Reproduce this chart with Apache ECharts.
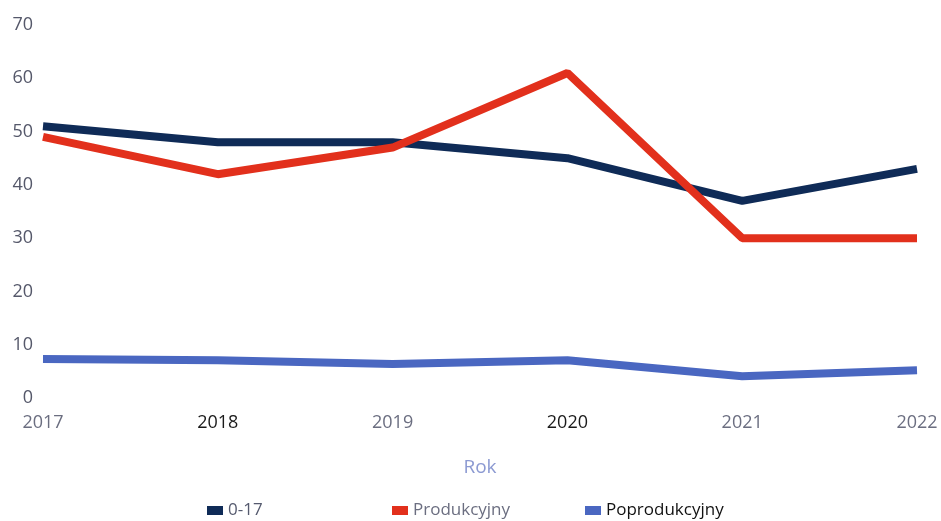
<!DOCTYPE html>
<html>
<head>
<meta charset="utf-8">
<script src="https://cdn.jsdelivr.net/npm/echarts@6/dist/echarts.min.js"></script>
<style>html,body{margin:0;padding:0;background:#fff}#c{width:941px;height:521px}</style>
</head>
<body>
<div id="c"></div>
<script>
const years = ['2017', '2018', '2019', '2020', '2021', '2022'];
const seriesNames = ['0-17', 'Produkcyjny', 'Poprodukcyjny'];
const vals017 = [51, 48, 48, 45, 37, 43];
const valsProd = [49, 42, 47, 61, 30, 30];
const valsPoprod = [7.3, 7.1, 6.4, 7.1, 4.1, 5.2];
const yTicks = [0, 10, 20, 30, 40, 50, 60, 70];

const colors = ['#0f2b57', '#e2301c', '#4a67c1'];
const darkYears = ['2018', '2020'];
const font = 'Open Sans, Noto Sans, sans-serif';

const chart = echarts.init(document.getElementById('c'));
const mkLegend = (name, left, textColor) => ({
  data: [name], left: left, top: 497, itemWidth: 16, itemHeight: 9,
  icon: 'rect', itemGap: 6, textStyle: { color: textColor, fontSize: 17, fontFamily: font }
});
chart.setOption({
  animation: false,
  color: colors,
  grid: { left: 43, right: 24, top: 25, bottom: 123 },
  legend: [
    mkLegend(seriesNames[0], 202, '#555a6e'),
    mkLegend(seriesNames[1], 387, '#6b6e80'),
    mkLegend(seriesNames[2], 580, '#111')
  ],
  xAxis: {
    type: 'category', data: years, boundaryGap: false,
    name: 'Rok', nameLocation: 'middle', nameGap: 60,
    nameTextStyle: { color: '#8c9ad2', fontSize: 19, fontFamily: font },
    axisLine: { show: false }, axisTick: { show: false },
    axisLabel: {
      fontSize: 18, fontFamily: font, margin: 16,
      color: function (v) { return darkYears.indexOf(v) >= 0 ? '#1a1a1a' : '#6b6e80'; }
    }
  },
  yAxis: {
    type: 'value', min: yTicks[0], max: yTicks[yTicks.length - 1], interval: 10,
    axisLine: { show: false }, axisTick: { show: false }, splitLine: { show: false },
    axisLabel: { fontSize: 18, fontFamily: font, color: '#55586a', margin: 10 }
  },
  series: [
    { name: seriesNames[0], type: 'line', data: vals017, showSymbol: false, lineStyle: { width: 8, cap: 'butt' } },
    { name: seriesNames[1], type: 'line', data: valsProd, showSymbol: false, lineStyle: { width: 8, cap: 'butt' } },
    { name: seriesNames[2], type: 'line', data: valsPoprod, showSymbol: false, lineStyle: { width: 8, cap: 'butt' } }
  ]
});
</script>
</body>
</html>
